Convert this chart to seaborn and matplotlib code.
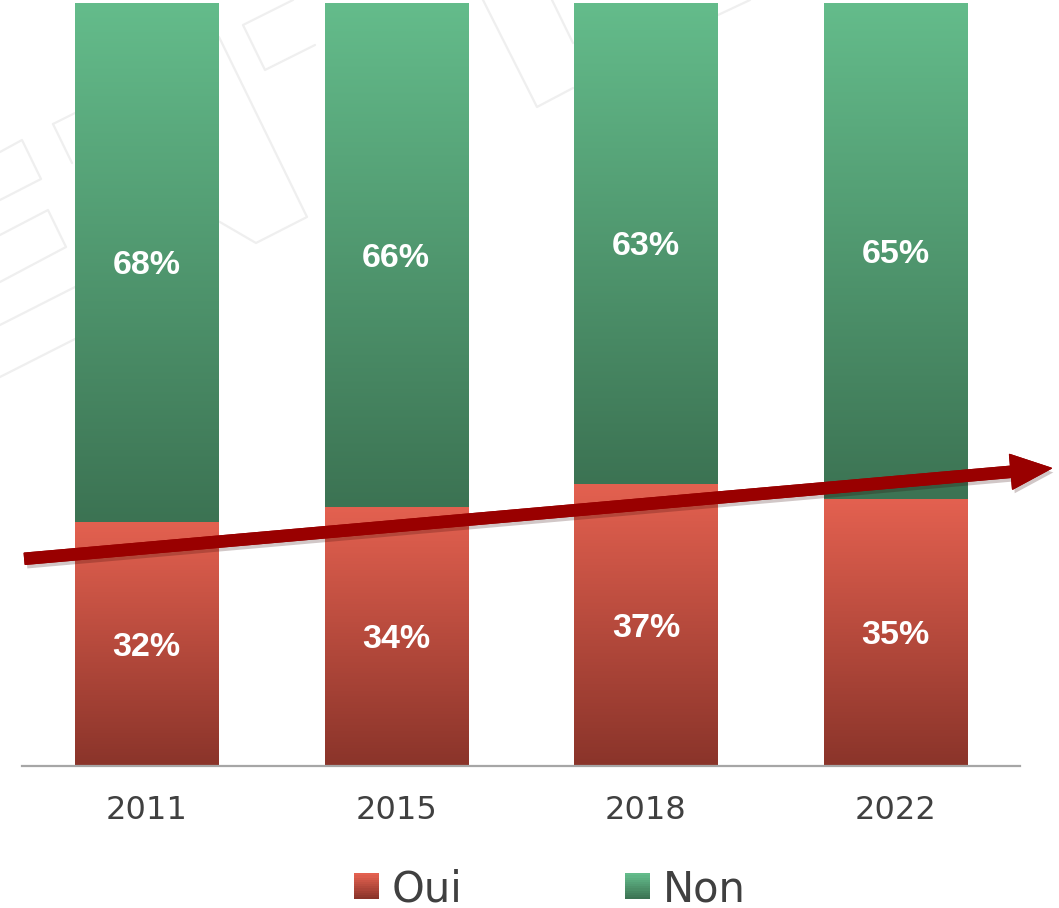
import numpy as np
import pandas as pd
import matplotlib.pyplot as plt
import seaborn as sns
from matplotlib.patches import FancyArrowPatch, Rectangle
from matplotlib.lines import Line2D
from matplotlib.legend_handler import HandlerBase
import matplotlib.patheffects as pe
from matplotlib.colors import to_rgb

# Réponses Oui / Non par année
annees = ['2011', '2015', '2018', '2022']
oui = [32, 34, 37, 35]
non = [68, 66, 63, 65]

df = pd.DataFrame({'Année': annees, 'Oui': oui, 'Non': non})
df['Total'] = df['Oui'] + df['Non']

# dégradés (haut, bas)
rouge = ('#E46150', '#8A342A')
vert = ('#64BC8B', '#3C7353')

sns.set_style('white')
W, H = 1059, 908
fig = plt.figure(figsize=(W / 100, H / 100), dpi=100)
ax = fig.add_axes([21.6 / W, 142 / H, 998.8 / W, 763 / H])
ax.patch.set_alpha(0)


def grad(top, bottom, n=256):
    t = np.linspace(0, 1, n)[:, None]
    a, b = np.array(to_rgb(bottom)), np.array(to_rgb(top))
    return (a + (b - a) * t)[:, None, :]


# filigrane en arrière-plan (pixels)
filigrane = [
    [(0, 152), (22, 140), (41, 179), (0, 200)],
    [(0, 235), (48, 210), (66, 247), (0, 282)],
    [(0, 325), (75, 287)],
    [(0, 377), (75, 339)],
    [(53, 124), (75, 113)],
    [(53, 124), (72, 163)],
    [(212, 40), (219, 37), (307, 217), (256, 243), (213, 218)],
    [(293, 0), (243, 25), (265, 70), (315, 45)],
    [(483, 0), (537, 107), (573, 88)],
    [(552, 0), (573, 43)],
    [(718, 15), (750, 0)],
]
for pts in filigrane:
    xs = [p[0] / W for p in pts]
    ys = [1 - p[1] / H for p in pts]
    fig.add_artist(Line2D(xs, ys, color='#EFEFEF', lw=1.6, zorder=-5))

# barres empilées
sns.barplot(data=df, x='Année', y='Total', color=vert[0], width=0.573, ax=ax)
sns.barplot(data=df, x='Année', y='Oui', color=rouge[0], width=0.573, ax=ax)

patches = list(ax.patches)
n = len(annees)
for i in range(n):
    p_tot, p_oui = patches[i], patches[n + i]
    x0, w = p_oui.get_x(), p_oui.get_width()
    h_oui, h_tot = p_oui.get_height(), p_tot.get_height()
    p_tot.set_visible(False)
    p_oui.set_visible(False)
    ax.imshow(grad(*rouge), extent=[x0, x0 + w, 0, h_oui], origin='lower',
              aspect='auto', interpolation='bilinear', zorder=2)
    ax.imshow(grad(*vert), extent=[x0, x0 + w, h_oui, h_tot], origin='lower',
              aspect='auto', interpolation='bilinear', zorder=2)
    ax.text(x0 + w / 2, h_oui / 2, f'{oui[i]}%', ha='center', va='center_baseline',
            color='white', fontsize=24.5, fontweight='bold',
            family='Liberation Sans', zorder=3)
    ax.text(x0 + w / 2, (h_oui + h_tot) / 2, f'{non[i]}%', ha='center', va='center_baseline',
            color='white', fontsize=24.5, fontweight='bold',
            family='Liberation Sans', zorder=3)

ax.set_xlim(-0.5, n - 0.5)
ax.set_ylim(0, 100)
ax.set_xlabel('')
ax.set_ylabel('')
ax.set_yticks([])
ax.tick_params(axis='x', length=0, pad=21, labelsize=23, labelcolor='#404040')
for s in ['top', 'left', 'right']:
    ax.spines[s].set_visible(False)
ax.spines['bottom'].set_color('#A6A6A6')
ax.spines['bottom'].set_linewidth(1.6)
ax.spines['bottom'].set_zorder(4)


# légende avec carrés en dégradé
class HandlerDegrade(HandlerBase):
    def __init__(self, couleurs):
        super().__init__()
        self.couleurs = couleurs

    def create_artists(self, legend, orig_handle, xdescent, ydescent, width, height, fontsize, trans):
        k = 12
        arr = grad(*self.couleurs, k)
        arts = []
        for j in range(k):
            r = Rectangle((-xdescent, -ydescent + height * j / k), width, height / k + 0.3,
                          facecolor=arr[j, 0], edgecolor='none', transform=trans)
            arts.append(r)
        return arts


h_oui = Rectangle((0, 0), 1, 1)
h_non = Rectangle((0, 0), 1, 1)
leg = fig.legend([h_oui, h_non], ['Oui', 'Non'], loc='center',
                 bbox_to_anchor=(550 / W, 1 - 889 / H), ncol=2, frameon=False,
                 fontsize=30, handlelength=0.6, handleheight=0.58,
                 handletextpad=0.3, columnspacing=3.9,
                 handler_map={h_oui: HandlerDegrade(rouge), h_non: HandlerDegrade(vert)})
for t in leg.get_texts():
    t.set_color('#404040')

# flèche de tendance
fleche = FancyArrowPatch((22 / W, 1 - 559 / H), (1054 / W, 1 - 468 / H),
                         transform=fig.transFigure,
                         arrowstyle='simple,head_length=29,head_width=25,tail_width=8',
                         mutation_scale=1, color='#990000', zorder=10,
                         path_effects=[pe.withSimplePatchShadow(offset=(1.5, -3), alpha=0.22),
                                       pe.Normal()])
fig.add_artist(fleche)

fig.savefig('out.png', dpi=100)
